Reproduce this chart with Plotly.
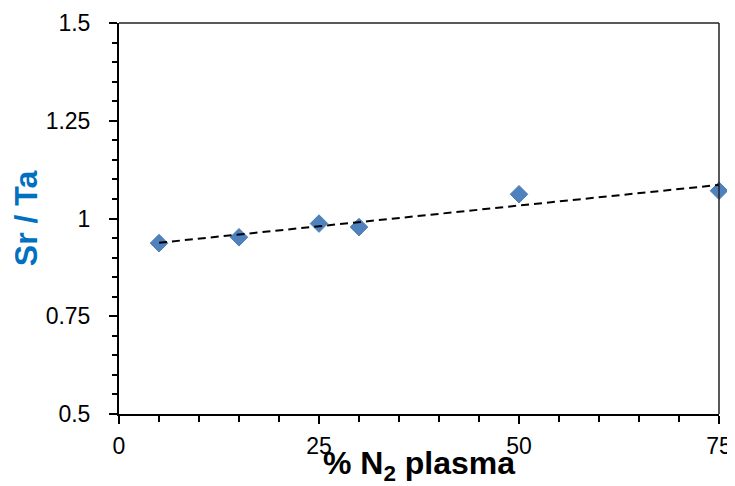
import numpy as np
import plotly.graph_objs as go

# % N2 in the plasma vs measured Sr/Ta ratio
pct_n2 = [5, 15, 25, 30, 50, 75]
sr_ta = [0.937, 0.952, 0.987, 0.978, 1.062, 1.071]

x_ticks = [0, 25, 50, 75]
y_ticks = [0.5, 0.75, 1, 1.25, 1.5]
y_tick_text = ['0.5', '0.75', '1', '1.25', '1.5']

FONT = 'Liberation Sans, Arial, sans-serif'


def trend(x, y):
    # linear least-squares trendline, like the spreadsheet one
    k, b = np.polyfit(x, y, 1)
    xs = np.array([min(x), max(x)])
    return xs, k * xs + b


def plot():
    tx, ty = trend(pct_n2, sr_ta)

    points = go.Scatter(
        x=pct_n2,
        y=sr_ta,
        mode='markers',
        marker=dict(symbol='diamond', size=13.5, color='#4F81BD',
                    line=dict(color='#4A7EBB', width=1)),
        cliponaxis=False,
        showlegend=False
    )
    fit = go.Scatter(
        x=tx,
        y=ty,
        mode='lines',
        line=dict(color='black', width=2, dash='8px,5px'),
        showlegend=False
    )

    # page body has an 8px margin, so the figure is a bit smaller
    layout = go.Layout(
        width=727,
        height=478,
        margin=dict(l=111, r=16, t=15, b=72),
        paper_bgcolor='white',
        plot_bgcolor='white',
        font=dict(family=FONT, color='black'),
        xaxis=dict(
            range=[0, 75],
            tickvals=x_ticks,
            automargin=False,
            showgrid=False,
            zeroline=False,
            showline=True,
            linecolor='black',
            linewidth=2,
            ticks='outside',
            ticklen=8,
            tickwidth=2,
            tickcolor='black',
            tickfont=dict(size=23),
            ticklabelstandoff=2,
            ticklabeloverflow='allow',
            minor=dict(dtick=5, ticks='outside', ticklen=6, tickwidth=1.5,
                       tickcolor='black', showgrid=False),
            title=dict(text='<b>% N<sub>2</sub> plasma</b>',
                       font=dict(size=32), standoff=14)
        ),
        yaxis=dict(
            range=[0.5, 1.5],
            tickvals=y_ticks,
            ticktext=y_tick_text,
            automargin=False,
            showgrid=False,
            zeroline=False,
            showline=True,
            linecolor='black',
            linewidth=2,
            ticks='outside',
            ticklen=8,
            tickwidth=2,
            tickcolor='black',
            tickfont=dict(size=23),
            ticklabelstandoff=14,
            minor=dict(dtick=0.05, ticks='outside', ticklen=5, tickwidth=1.5,
                       tickcolor='black', showgrid=False),
            title=dict(text='<b>Sr / Ta</b>',
                       font=dict(size=32, color='#0070C0'), standoff=23)
        ),
        shapes=[
            # thinner frame on top and right
            dict(type='line', xref='paper', yref='paper', x0=0, x1=1, y0=1, y1=1,
                 line=dict(color='#222222', width=1.5)),
            dict(type='line', xref='paper', yref='paper', x0=1, x1=1, y0=0, y1=1,
                 line=dict(color='#222222', width=1.5)),
        ]
    )

    fig = go.Figure(data=[points, fit], layout=layout)
    fig.write_html('out.html')


if __name__ == '__main__':
    plot()
